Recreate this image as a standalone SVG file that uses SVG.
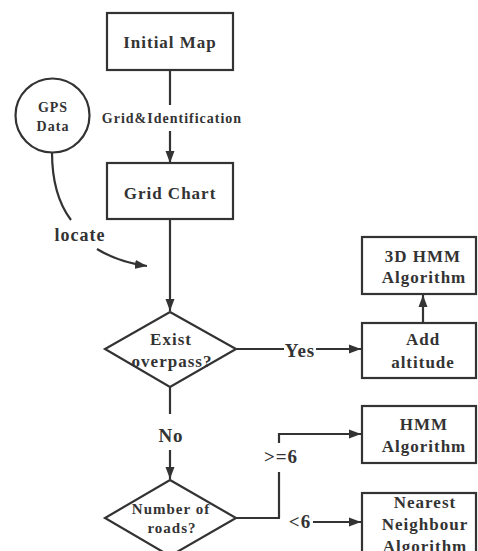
<svg xmlns="http://www.w3.org/2000/svg" width="478" height="551" viewBox="0 0 478 551">
<style>
.n{fill:#fff;stroke:#333;stroke-width:2.2}
.c{fill:none;stroke:#333;stroke-width:2.2}
text{font-family:"Liberation Serif","Times New Roman",serif;font-weight:bold;fill:#333;text-anchor:middle}
.b{font-size:17px;letter-spacing:1px}
.s{font-size:14px;letter-spacing:1px}
.l{font-size:19px;letter-spacing:1px}
</style>
<defs>
<marker id="ah" viewBox="0 0 12 10" refX="12" refY="5" markerWidth="12" markerHeight="10" markerUnits="userSpaceOnUse" orient="auto">
<path d="M0,0.5 L12,5 L0,9.5 z" fill="#333"/>
</marker>
</defs>
<rect width="478" height="551" fill="#fff"/>
<g id="connectors">
<path class="c" d="M170,70 V105"/>
<path class="c" d="M170,131 V163" marker-end="url(#ah)"/>
<path class="c" d="M52,152 Q52,195 71,220"/>
<path class="c" d="M97,249 Q118,262 147,266" marker-end="url(#ah)"/>
<path class="c" d="M170,219 V311" marker-end="url(#ah)"/>
<path class="c" d="M236,349 H284"/>
<path class="c" d="M316,349 H361" marker-end="url(#ah)"/>
<path class="c" d="M423,322 V295" marker-end="url(#ah)"/>
<path class="c" d="M170,387 V414"/>
<path class="c" d="M170,450 V479" marker-end="url(#ah)"/>
<path class="c" d="M236,518 H280"/>
<path class="c" d="M279,518 V472"/>
<path class="c" d="M279,443 V434 H361" marker-end="url(#ah)"/>
<path class="c" d="M313,522 H361" marker-end="url(#ah)"/>
<text class="s" x="172" y="123">Grid&amp;Identification</text>
<text class="l" x="80" y="241" style="font-size:18px">locate</text>
<text class="l" x="300" y="357">Yes</text>
<text class="l" x="171" y="442">No</text>
<text class="l" x="281" y="463">&gt;=6</text>
<text class="l" x="300" y="528">&lt;6</text>
</g>
<g id="initial-map">
<rect class="n" x="107" y="13" width="126" height="57"/>
<text class="b" x="170" y="48">Initial Map</text>
</g>
<g id="gps-data">
<circle class="n" cx="52.5" cy="115.5" r="37"/>
<text class="s" x="53" y="112">GPS</text>
<text class="s" x="53" y="131">Data</text>
</g>
<g id="grid-chart">
<rect class="n" x="107" y="163" width="126" height="56"/>
<text class="b" x="170" y="199">Grid Chart</text>
</g>
<g id="exist-overpass">
<path class="n" d="M170,312 L236,349 L170,387 L105,349 z"/>
<text class="b" x="171" y="345">Exist</text>
<text class="b" x="172" y="367">overpass?</text>
</g>
<g id="hmm3d">
<rect class="n" x="362" y="237" width="114" height="57"/>
<text class="b" x="423" y="262">3D HMM</text>
<text class="b" x="424" y="283">Algorithm</text>
</g>
<g id="add-altitude">
<rect class="n" x="362" y="323" width="114" height="55"/>
<text class="b" x="423" y="345">Add</text>
<text class="b" x="423" y="368">altitude</text>
</g>
<g id="number-of-roads">
<path class="n" d="M170,480 L236,518 L170,556 L105,518 z"/>
<text class="s" x="171" y="514" style="font-size:15px">Number of</text>
<text class="s" x="172" y="533" style="font-size:15px">roads?</text>
</g>
<g id="hmm">
<rect class="n" x="362" y="406" width="114" height="57"/>
<text class="b" x="424" y="430">HMM</text>
<text class="b" x="424" y="452">Algorithm</text>
</g>
<g id="nearest-neighbour">
<rect class="n" x="362" y="493" width="114" height="70"/>
<text class="b" x="425" y="508">Nearest</text>
<text class="b" x="425" y="530">Neighbour</text>
<text class="b" x="425" y="552">Algorithm</text>
</g>
</svg>
